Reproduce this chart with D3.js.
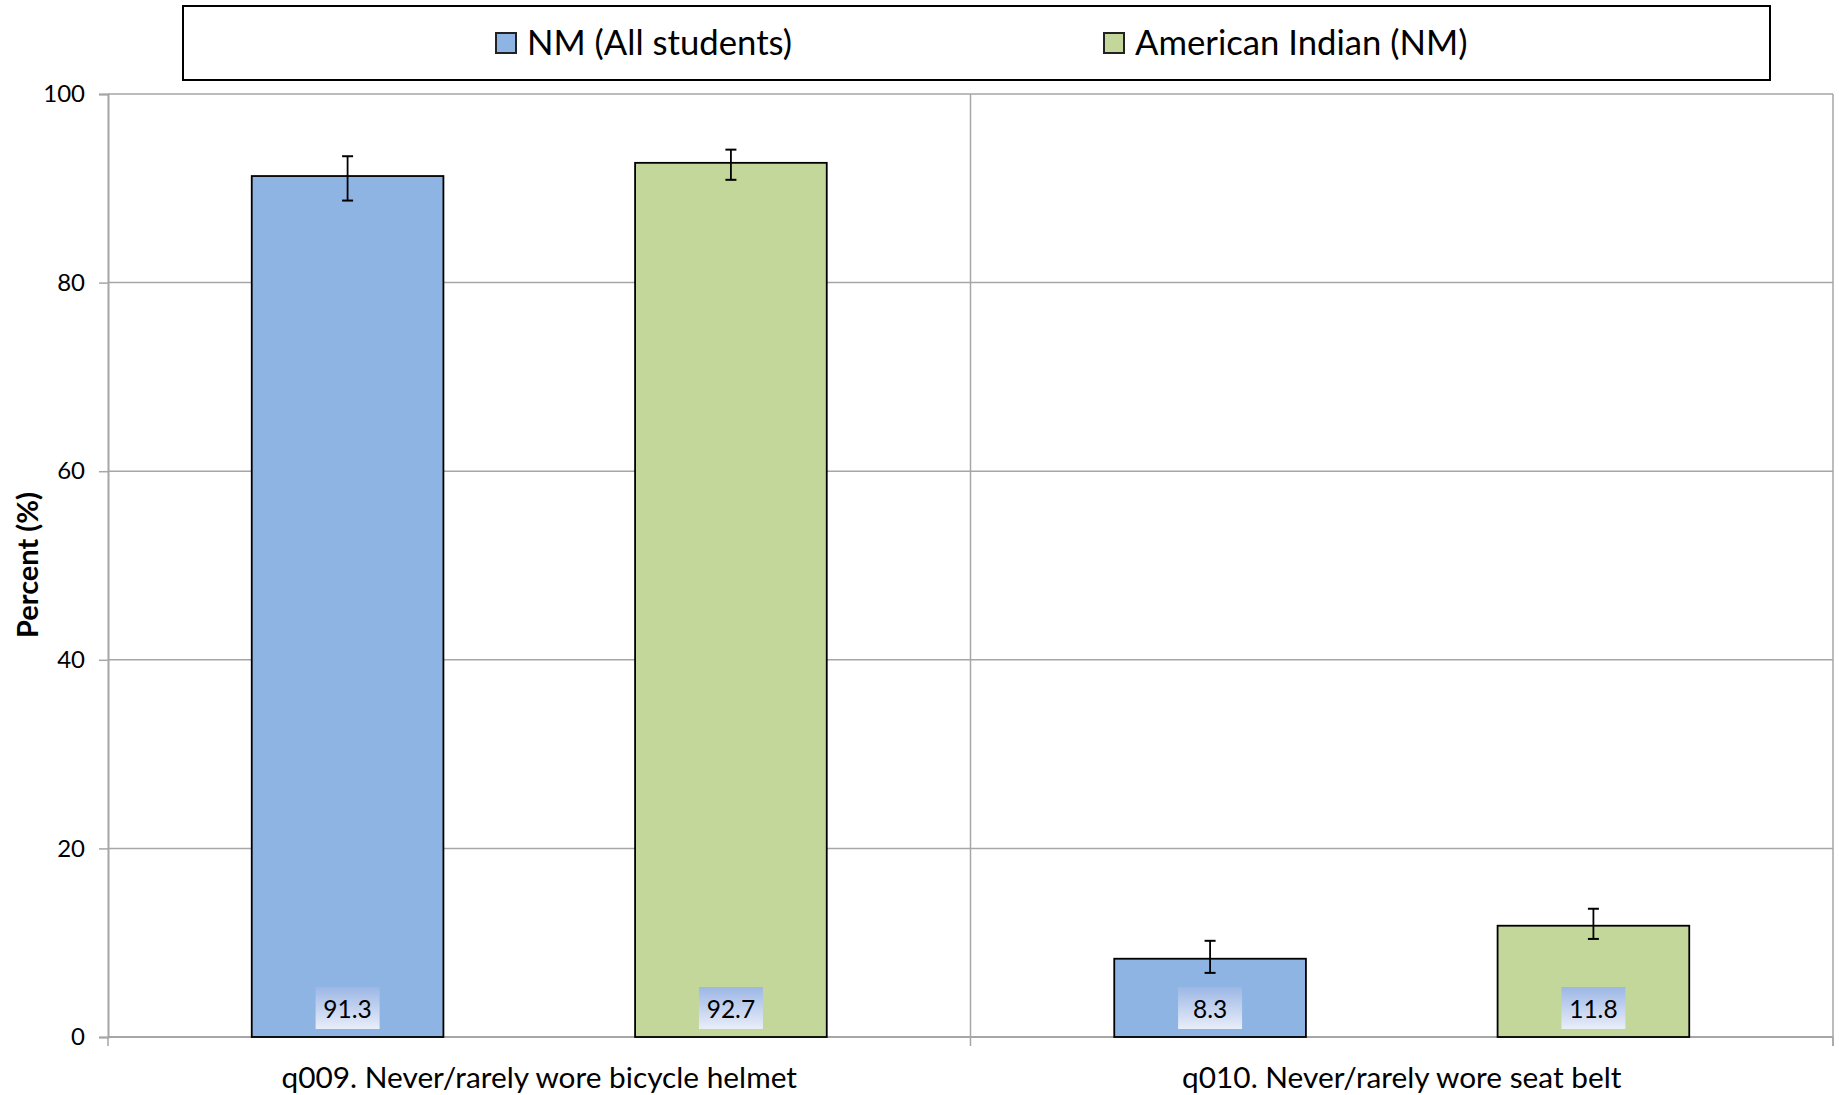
<!DOCTYPE html>
<html><head><meta charset="utf-8">
<script src="https://cdn.jsdelivr.net/npm/d3@7"></script>
<style>body{margin:0;background:#fff;} svg{display:block;}</style>
</head><body>
<svg id="c" width="1839" height="1095"></svg>
<script>
const categories = ["q009. Never/rarely wore bicycle helmet", "q010. Never/rarely wore seat belt"];
const seriesNames = ["NM (All students)", "American Indian (NM)"];
const nmAll = [91.3, 8.3];
const nmAllLow = [88.7, 6.8];
const nmAllHigh = [93.4, 10.2];
const amInd = [92.7, 11.8];
const amIndLow = [90.9, 10.4];
const amIndHigh = [94.1, 13.6];
const yTicks = [0, 20, 40, 60, 80, 100];
const colors = ["#8eb4e3", "#c4d79b"];

const seriesData = [
  {name: seriesNames[0], vals: nmAll, lo: nmAllLow, hi: nmAllHigh, color: colors[0]},
  {name: seriesNames[1], vals: amInd, lo: amIndLow, hi: amIndHigh, color: colors[1]}
];

const svg = d3.select("#c");
const L = 108, R = 1833, T = 94, B = 1037;
const font = "Lato, 'Open Sans', sans-serif";

const x0 = d3.scaleBand().domain(categories).range([L, R]).padding(0);
const x1 = d3.scaleBand().domain(seriesNames).range([0, x0.bandwidth()]).paddingInner(0.5).paddingOuter(0.375);
const y = d3.scaleLinear().domain([0, 100]).range([B, T]);

const defs = svg.append("defs");
const grad = defs.append("linearGradient").attr("id","lbl").attr("x1",0).attr("y1",0).attr("x2",0).attr("y2",1);
grad.append("stop").attr("offset","0%").attr("stop-color","#9cb7e5");
grad.append("stop").attr("offset","100%").attr("stop-color","#e9eef9");

// gridlines
svg.append("g").selectAll("line").data(yTicks).join("line")
  .attr("x1", L).attr("x2", R).attr("y1", d => y(d)).attr("y2", d => y(d))
  .attr("stroke", "#a6a6a6").attr("stroke-width", 1.5);

// y axis
const yAxis = d3.axisLeft(y).tickValues(yTicks).tickSize(9).tickPadding(14);
const gy = svg.append("g").attr("transform", `translate(${L},0)`).call(yAxis);
gy.select(".domain").attr("stroke", "#a6a6a6").attr("stroke-width", 2);
gy.selectAll(".tick line").attr("stroke", "#a6a6a6").attr("stroke-width", 1.5);
gy.selectAll(".tick text").attr("font-family", font).attr("font-size", 24).attr("fill", "#000");

// right border
svg.append("line").attr("x1", R).attr("x2", R).attr("y1", T).attr("y2", B + 9).attr("stroke", "#a6a6a6").attr("stroke-width", 1.5);
// category divider + ticks
const bounds = [L, ...categories.map(c => x0(c) + x0.bandwidth())];
svg.append("g").selectAll("line").data(bounds).join("line")
  .attr("x1", d => d).attr("x2", d => d)
  .attr("y1", (d, i) => (i === 1 ? T : B)).attr("y2", B + 9)
  .attr("stroke", "#a6a6a6").attr("stroke-width", 1.5);

// x axis baseline
svg.append("line").attr("x1", L).attr("x2", R).attr("y1", B).attr("y2", B).attr("stroke", "#a6a6a6").attr("stroke-width", 2);

// x labels
svg.append("g").selectAll("text").data(categories).join("text")
  .attr("x", d => x0(d) + x0.bandwidth() / 2).attr("y", 1088)
  .attr("text-anchor", "middle").attr("font-family", font).attr("font-size", 29.8).attr("fill", "#000")
  .text(d => d);

// bars
const groups = svg.append("g").selectAll("g").data(categories).join("g")
  .attr("transform", d => `translate(${x0(d)},0)`);

groups.each(function(cat, ci) {
  const g = d3.select(this);
  seriesData.forEach(s => {
    const bx = x1(s.name), bw = x1.bandwidth();
    g.append("rect").attr("x", bx).attr("width", bw)
      .attr("y", y(s.vals[ci])).attr("height", y(0) - y(s.vals[ci]))
      .attr("fill", s.color).attr("stroke", "#000").attr("stroke-width", 1.8);
    const cx = bx + bw / 2;
    // error bar
    g.append("line").attr("x1", cx).attr("x2", cx).attr("y1", y(s.hi[ci])).attr("y2", y(s.lo[ci]))
      .attr("stroke", "#000").attr("stroke-width", 1.8);
    [s.hi[ci], s.lo[ci]].forEach(v => {
      g.append("line").attr("x1", cx - 5.5).attr("x2", cx + 5.5).attr("y1", y(v)).attr("y2", y(v))
        .attr("stroke", "#000").attr("stroke-width", 2);
    });
    // label
    g.append("rect").attr("x", cx - 32).attr("width", 64).attr("y", B - 50).attr("height", 42)
      .attr("fill", "url(#lbl)");
    g.append("text").attr("x", cx).attr("y", B - 25).attr("text-anchor", "middle")
      .attr("dominant-baseline", "middle").attr("font-family", font).attr("font-size", 24.5).attr("fill", "#000")
      .text(s.vals[ci].toFixed(1));
  });
});

// y title
svg.append("text").attr("transform", "translate(38,565) rotate(-90)")
  .attr("text-anchor", "middle").attr("font-family", font).attr("font-weight", "bold")
  .attr("font-size", 29).attr("fill", "#000").text("Percent (%)");

// legend
svg.append("rect").attr("x", 183).attr("y", 6).attr("width", 1587).attr("height", 74)
  .attr("fill", "#fff").attr("stroke", "#000").attr("stroke-width", 2);
const legX = [496, 1104];
seriesData.forEach((s, i) => {
  svg.append("rect").attr("x", legX[i]).attr("y", 33).attr("width", 20).attr("height", 20)
    .attr("fill", s.color).attr("stroke", "#222").attr("stroke-width", 2);
  svg.append("text").attr("x", legX[i] + 31).attr("y", 46).attr("dominant-baseline", "middle")
    .attr("font-family", font).attr("font-size", 34.7).attr("fill", "#000").text(s.name);
});
</script>
</body></html>
